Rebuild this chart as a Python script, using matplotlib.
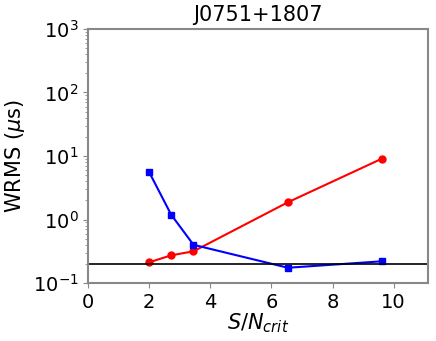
import matplotlib
matplotlib.use("Agg")
import matplotlib.pyplot as plt

# ── Data ───────────────────────────────────────────────────────────────────────
sn_crit = [2.0, 2.72, 3.45, 6.54, 9.62]
wrms_red = [0.212, 0.273, 0.316, 1.87, 9.1]
wrms_blue = [5.57, 1.19, 0.40, 0.174, 0.22]
ref_level = 0.197

fig = plt.figure(figsize=(4.36, 3.41), dpi=100)
ax = fig.add_axes([0.202, 0.170, 0.780, 0.745])

ax.plot(sn_crit, wrms_red, color="red", marker="o", ms=5, lw=1.5)
ax.plot(sn_crit, wrms_blue, color="blue", marker="s", ms=5, lw=1.5)
ax.axhline(ref_level, color="black", lw=1.2)

ax.set_yscale("log")
ax.set_ylim(0.1, 1000)
ax.set_xlim(0, 11.13)
ax.set_xticks([0, 2, 4, 6, 8, 10])

for spine in ax.spines.values():
    spine.set_edgecolor("#888888")
    spine.set_linewidth(1.5)
ax.tick_params(labelsize=14, colors="#888888", labelcolor="black")
ax.tick_params(which="minor", colors="#888888")

ax.set_xlabel(r"$S/N_{crit}$", fontsize=15, labelpad=0)
ax.set_ylabel(r"WRMS ($\mu$s)", fontsize=15)
ax.set_title("J0751+1807", fontsize=15)

fig.savefig("out.png", dpi=100)
